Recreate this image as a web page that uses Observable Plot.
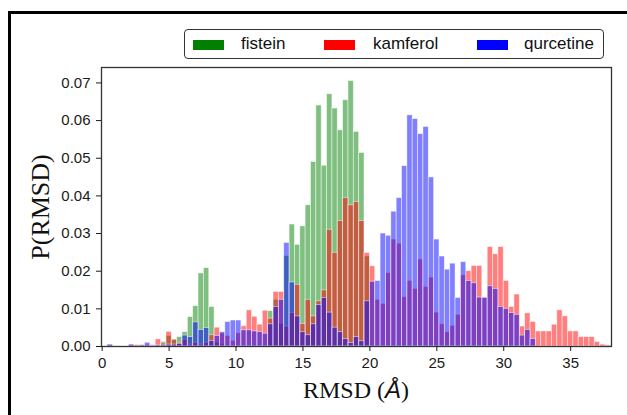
<!DOCTYPE html>
<html>
<head>
<meta charset="utf-8">
<script src="https://cdn.jsdelivr.net/npm/d3@7"></script>
<script src="https://cdn.jsdelivr.net/npm/@observablehq/plot@0.6"></script>
<style>
  html, body { margin: 0; padding: 0; background: #fff; }
  #wrap { position: relative; width: 627px; height: 415px; overflow: hidden; background: #fff; }
  #outer { position: absolute; left: 8px; top: 11px; width: 800px; height: 600px;
           border-left: 3px solid #000; border-top: 3px solid #000; box-sizing: border-box; }
  #chart { position: absolute; left: 0; top: 0; }
  #legend { position: absolute; left: 184px; top: 29px; width: 420px; height: 30px;
            border: 1.5px solid #333; border-radius: 4px; background: #fff; box-sizing: border-box;
            font-family: "Liberation Sans", Arial, sans-serif; font-size: 17px; color: #111; }
  .sw { position: absolute; top: 10px; width: 31px; height: 10px; }
  .lt { position: absolute; top: 4px; line-height: 20px; white-space: nowrap; }
</style>
</head>
<body>
<div id="wrap">
  <div id="outer"></div>
  <div id="chart"></div>
  <div id="legend"></div>
</div>
<script>
// ---- data (bin start positions in Å, bin width 0.4) ----
const binWidth = 0.4;
const binStart = [0,0.4,0.8,1.2,1.6,2,2.4,2.8,3.2,3.6,4,4.4,4.8,5.2,5.6,6,6.4,6.8,7.2,7.6,
  8,8.4,8.8,9.2,9.6,10,10.4,10.8,11.2,11.6,12,12.4,12.8,13.2,13.6,14,14.4,14.8,15.2,15.6,
  16,16.4,16.8,17.2,17.6,18,18.4,18.8,19.2,19.6,20,20.4,20.8,21.2,21.6,22,22.4,22.8,23.2,23.6,
  24,24.4,24.8,25.2,25.6,26,26.4,26.8,27.2,27.6,28,28.4,28.8,29.2,29.6,30,30.4,30.8,31.2,31.6,
  32,32.4,32.8,33.2,33.6,34,34.4,34.8,35.2,35.6,36,36.4,36.8,37.2,37.6];

const seriesNames = ["fistein", "kamferol", "qurcetine"];
const seriesColors = ["#008000", "#ff0000", "#0000ff"];

const fistein = [
  0,0,0,0,0,0,0,0,0,0,
  0,0.0012,0.0028,0.0018,0.0025,0.0038,0.0078,0.0107,0.0194,0.0208,
  0.0105,0.001,0.0005,0,0,0,0,0,0,0,
  0,0.0094,0.0124,0.006,0.024,0.0324,0.027,0.0319,0.0375,0.049,
  0.064,0.048,0.067,0.0632,0.0574,0.0654,0.0705,0.057,0.0514,0.0239,
  0,0,0,0,0,0,0,0,0,0,
  0,0,0,0,0,0,0,0,0,0,
  0,0,0,0,0,0,0,0,0,0,
  0,0,0,0,0,0,0,0,0,0,
  0,0,0,0,0];

const kamferol = [
  0,0.0004,0,0,0,0.0004,0.0004,0.0004,0.0004,0.0004,
  0.0019,0.0008,0.0039,0.0018,0.001,0.0018,0.0005,0.001,0.0005,0.001,
  0.003,0.005,0.0035,0.0028,0.0015,0.0035,0.0054,0.0096,0.0079,0.0058,
  0.0095,0.0074,0.0145,0.0145,0.0053,0.0089,0.0164,0.006,0.0124,0.008,
  0.012,0.0149,0.031,0.0249,0.0333,0.0394,0.0375,0.0384,0.0333,0.0248,
  0.0213,0.0124,0.0113,0.0195,0.0284,0.0273,0.0131,0.0174,0.0153,0.0231,
  0.0158,0.0183,0.009,0.0059,0.0038,0.0055,0.0084,0.0189,0.02,0.0214,
  0.0214,0.013,0.0264,0.0245,0.0264,0.0174,0.0105,0.0138,0.0053,0.0088,
  0.0065,0.004,0.004,0.004,0.0058,0.0096,0.008,0.004,0.004,0.0025,
  0.0025,0.0025,0.0012,0.0005,0.0003];

const qurcetine = [
  0,0.0005,0,0,0,0.0005,0,0.0003,0.001,0.0002,
  0.0003,0.0003,0.0005,0.0005,0.0007,0.0029,0.0025,0.0064,0.0044,0.0049,
  0.0015,0.0028,0.0038,0.0065,0.0069,0.0069,0.0043,0.0043,0.004,0.0038,
  0.0034,0.0059,0.0105,0.0124,0.0275,0.017,0.008,0.0038,0.003,0.0059,
  0.011,0.0129,0.009,0.005,0.0038,0.002,0.0009,0.0025,0.0014,0.012,
  0.0172,0.0174,0.03,0.0294,0.0358,0.0394,0.0479,0.0614,0.0604,0.0564,
  0.0583,0.0449,0.0284,0.0239,0.0204,0.022,0.0129,0.0224,0.0174,0.0168,
  0.013,0.0129,0.016,0.0153,0.0105,0.01,0.0089,0.0084,0.0029,0.0044,
  0.002,0,0,0,0,0,0,0,0,0,
  0,0,0,0,0];

const xTicks = [0, 5, 10, 15, 20, 25, 30, 35];
const yTicks = [0, 0.01, 0.02, 0.03, 0.04, 0.05, 0.06, 0.07];
const xLabel = "RMSD (";
const xLabelItalic = "Å";
const xLabelEnd = ")";
const yLabel = "P(RMSD)";

// ---- build tables ----
function rows(values) {
  return values.map((v, i) => ({x1: binStart[i], x2: binStart[i] + binWidth, y: v}))
               .filter(d => d.y > 0);
}
const allSeries = [fistein, kamferol, qurcetine];

const barMarks = allSeries.map((vals, k) =>
  Plot.rectY(rows(vals), {
    x1: "x1", x2: "x2", y: "y",
    fill: seriesColors[k], fillOpacity: 0.5,
    stroke: "white", strokeOpacity: 0.6, strokeWidth: 0.8
  })
);

const chart = Plot.plot({
  width: 627,
  height: 415,
  marginLeft: 101,
  marginRight: 16,
  marginTop: 67,
  marginBottom: 69,
  style: {fontFamily: "'Liberation Sans', Arial, sans-serif", fontSize: "15px", color: "#1a1a1a", background: "transparent"},
  x: {domain: [-0.05, 38.05]},
  y: {domain: [0, 0.0741]},
  marks: [
    ...barMarks,
    Plot.frame({stroke: "#333", strokeWidth: 1.3}),
    Plot.axisX({ticks: xTicks, tickSize: 5, tickPadding: 6, label: null, tickFormat: d3.format("d")}),
    Plot.axisY({ticks: yTicks, tickSize: 5, tickPadding: 6, label: null, tickFormat: d3.format(".2f")})
  ]
});
document.getElementById("chart").appendChild(chart);

// axis titles as real SVG text
const svg = d3.select(chart);
const xt = svg.append("text")
  .attr("x", 356).attr("y", 398)
  .attr("text-anchor", "middle")
  .style("font-family", "'Liberation Serif', 'Times New Roman', serif")
  .style("font-size", "24px").attr("fill", "#111");
xt.append("tspan").text(xLabel);
xt.append("tspan").style("font-style", "italic").style("font-family", "'Liberation Sans', Arial, sans-serif").text(xLabelItalic);
xt.append("tspan").text(xLabelEnd);

svg.append("text")
  .attr("transform", "translate(49,207) rotate(-90)")
  .attr("text-anchor", "middle")
  .style("font-family", "'Liberation Serif', 'Times New Roman', serif")
  .style("font-size", "26px").attr("fill", "#111")
  .text(yLabel);

// legend
const legendPos = [[8, 56], [139, 188], [292, 339]];
const leg = d3.select("#legend");
seriesNames.forEach((name, k) => {
  leg.append("div").attr("class", "sw")
    .style("left", legendPos[k][0] + "px").style("background", seriesColors[k]);
  leg.append("div").attr("class", "lt")
    .style("left", legendPos[k][1] + "px").text(name);
});
</script>
</body>
</html>
